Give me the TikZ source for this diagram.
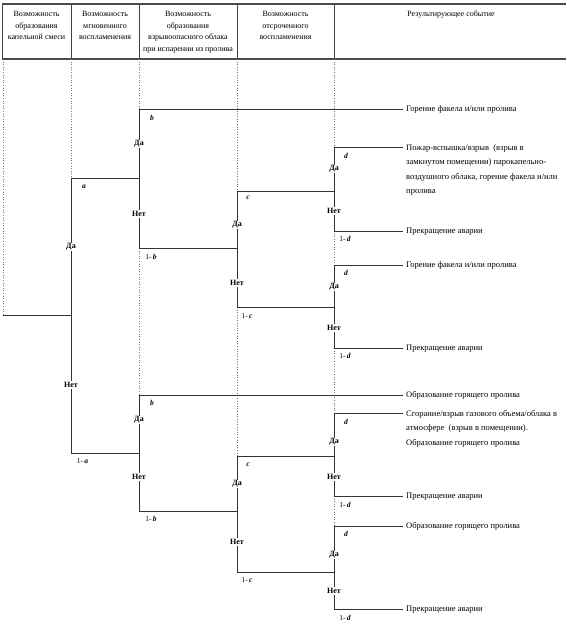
\documentclass[tikz,border=0pt]{standalone}
\usepackage{fontspec}
\setmainfont{Liberation Serif}
\tikzset{
  tree/.style={line width=0.8pt, draw=black!80},
  guide/.style={dotted, line width=0.6pt, draw=black!55},
  frame/.style={line width=1.2pt, draw=black!70},
  divider/.style={line width=0.7pt, draw=black!75},
  yn/.style={font=\bfseries\fontsize{8}{9}\selectfont, fill=white, inner sep=1pt},
  prob/.style={font=\fontsize{7.5}{9}\selectfont, inner sep=0pt},
  ev/.style={font=\fontsize{8.5}{14.5}\selectfont, align=left, inner sep=0pt},
  hdr/.style={font=\fontsize{8}{11.7}\selectfont, align=center, anchor=north, inner sep=0pt}
}
\newcommand{\pv}[1]{\textbf{\textit{#1}}}
\newcommand{\qv}[1]{1-\,\textbf{\textit{#1}}}
\begin{document}
\begin{tikzpicture}[x=1pt,y=-1pt]
\useasboundingbox (0,0) rectangle (566,626);
% ---------- header ----------
\coordinate (hTL) at (2,4);   \coordinate (hTR) at (566,4);
\coordinate (hBL) at (2,59);  \coordinate (hBR) at (566,59);
\draw[frame] (hTL) -- (hTR);
\draw[frame] (hBL) -- (hBR);
\foreach \xx in {2,71,139,237,334} {
  \draw[divider] (\xx,4) -- (\xx,59);
}
\node[hdr] (h1) at (36.5,11) {Возможность\\образования\\капельной смеси};
\node[hdr] (h2) at (105,11) {Возможность\\мгновенного\\воспламенения};
\node[hdr] (h3) at (188,11) {Возможность\\образования\\взрывоопасного облака\\при испарении из пролива};
\node[hdr] (h4) at (285.5,11) {Возможность\\отсроченного\\воспламенения};
\node[hdr] (h5) at (451,11) {Результирующее событие};
% ---------- junction coordinates ----------
\coordinate (G0) at (3,59);   \coordinate (GA) at (71,59);
\coordinate (GB) at (139,59); \coordinate (GC) at (237,59);
\coordinate (GD) at (334,59);
\coordinate (R0) at (3,315);
\coordinate (A) at (71,315);  \coordinate (Ay) at (71,178);  \coordinate (An) at (71,453);
\coordinate (B1) at (139,178); \coordinate (B1y) at (139,109); \coordinate (B1n) at (139,248);
\coordinate (B2) at (139,453); \coordinate (B2y) at (139,395); \coordinate (B2n) at (139,511);
\coordinate (C1) at (237,248); \coordinate (C1y) at (237,191); \coordinate (C1n) at (237,307);
\coordinate (C2) at (237,511); \coordinate (C2y) at (237,456); \coordinate (C2n) at (237,572);
\coordinate (D1) at (334,191); \coordinate (D1y) at (334,147); \coordinate (D1n) at (334,231);
\coordinate (D2) at (334,307); \coordinate (D2y) at (334,265); \coordinate (D2n) at (334,348);
\coordinate (D3) at (334,456); \coordinate (D3y) at (334,413); \coordinate (D3n) at (334,496);
\coordinate (D4) at (334,572); \coordinate (D4y) at (334,526); \coordinate (D4n) at (334,609);
% event line ends
\coordinate (T1) at (403,109);
\coordinate (T2) at (403,147);
\coordinate (T3) at (403,231);
\coordinate (T4) at (403,265);
\coordinate (T5) at (403,348);
\coordinate (T6) at (403,395);
\coordinate (T7) at (403,413);
\coordinate (T8) at (403,496);
\coordinate (T9) at (403,526);
\coordinate (T10) at (403,609);
% ---------- dotted guides ----------
\draw[guide] (G0) -- (R0);
\draw[guide] (GA) -- (Ay);
\draw[guide] (GB) -- (B1y);
\draw[guide] (B1n) -- (B2y);
\draw[guide] (GC) -- (C1y);
\draw[guide] (C1n) -- (C2y);
\draw[guide] (GD) -- (D1y);
\draw[guide] (D1n) -- (D2y);
\draw[guide] (D2n) -- (D3y);
\draw[guide] (D3n) -- (D4y);
% ---------- tree ----------
\draw[tree] (R0) -- (A);
\draw[tree] (Ay) -- (An);
\draw[tree] (Ay) -- (B1);
\draw[tree] (An) -- (B2);
\draw[tree] (B1y) -- (B1n);
\draw[tree] (B2y) -- (B2n);
\draw[tree] (B1n) -- (C1);
\draw[tree] (B2n) -- (C2);
\draw[tree] (C1y) -- (C1n);
\draw[tree] (C2y) -- (C2n);
\draw[tree] (C1y) -- (D1);
\draw[tree] (C1n) -- (D2);
\draw[tree] (C2y) -- (D3);
\draw[tree] (C2n) -- (D4);
\draw[tree] (D1y) -- (D1n);
\draw[tree] (D2y) -- (D2n);
\draw[tree] (D3y) -- (D3n);
\draw[tree] (D4y) -- (D4n);
\draw[tree] (B1y) -- (T1);
\draw[tree] (D1y) -- (T2);
\draw[tree] (D1n) -- (T3);
\draw[tree] (D2y) -- (T4);
\draw[tree] (D2n) -- (T5);
\draw[tree] (B2y) -- (T6);
\draw[tree] (D3y) -- (T7);
\draw[tree] (D3n) -- (T8);
\draw[tree] (D4y) -- (T9);
\draw[tree] (D4n) -- (T10);
% ---------- yes / no labels ----------
\node[yn] (lAy) at (71,247) {Да};
\node[yn] (lAn) at (71,385) {Нет};
\node[yn] (lB1y) at (139,144) {Да};
\node[yn] (lB1n) at (139,214) {Нет};
\node[yn] (lB2y) at (139,420) {Да};
\node[yn] (lB2n) at (139,477) {Нет};
\node[yn] (lC1y) at (237,225) {Да};
\node[yn] (lC1n) at (237,283) {Нет};
\node[yn] (lC2y) at (237,484) {Да};
\node[yn] (lC2n) at (237,542) {Нет};
\node[yn] (lD1y) at (334,169) {Да};
\node[yn] (lD1n) at (334,211) {Нет};
\node[yn] (lD2y) at (334,287) {Да};
\node[yn] (lD2n) at (334,328) {Нет};
\node[yn] (lD3y) at (334,442) {Да};
\node[yn] (lD3n) at (334,477) {Нет};
\node[yn] (lD4y) at (334,555) {Да};
\node[yn] (lD4n) at (334,591) {Нет};
% ---------- probability labels ----------
\node[prob] (pa) at (84,187) {\pv{a}};
\node[prob] (pna) at (82.5,461) {\qv{a}};
\node[prob] (pb1) at (152,118) {\pv{b}};
\node[prob] (pnb1) at (151,257) {\qv{b}};
\node[prob] (pb2) at (152,403) {\pv{b}};
\node[prob] (pnb2) at (151,519) {\qv{b}};
\node[prob] (pc1) at (248,198) {\pv{c}};
\node[prob] (pnc1) at (247,316) {\qv{c}};
\node[prob] (pc2) at (248,465) {\pv{c}};
\node[prob] (pnc2) at (247,580) {\qv{c}};
\node[prob] (pd1) at (346,156) {\pv{d}};
\node[prob] (pnd1) at (345,239) {\qv{d}};
\node[prob] (pd2) at (346,273) {\pv{d}};
\node[prob] (pnd2) at (345,356) {\qv{d}};
\node[prob] (pd3) at (346,422) {\pv{d}};
\node[prob] (pnd3) at (345,505) {\qv{d}};
\node[prob] (pd4) at (346,534) {\pv{d}};
\node[prob] (pnd4) at (345,618) {\qv{d}};
% ---------- events ----------
\node[ev, anchor=west] (e1) at (406,109.5) {Горение факела и/или пролива};
\node[ev, anchor=north west] (e2) at (406,144) {Пожар-вспышка/взрыв\ \ (взрыв в\\замкнутом помещении) парокапельно-\\воздушного облака, горение факела и/или\\пролива};
\node[ev, anchor=west] (e3) at (406,231.5) {Прекращение аварии};
\node[ev, anchor=west] (e4) at (406,265.5) {Горение факела и/или пролива};
\node[ev, anchor=west] (e5) at (406,348.5) {Прекращение аварии};
\node[ev, anchor=west] (e6) at (406,395.5) {Образование горящего пролива};
\node[ev, anchor=north west] (e7) at (406,410) {Сгорание/взрыв газового объема/облака в\\атмосфере\ \ (взрыв в помещении).\\Образование горящего пролива};
\node[ev, anchor=west] (e8) at (406,496.5) {Прекращение аварии};
\node[ev, anchor=west] (e9) at (406,526.5) {Образование горящего пролива};
\node[ev, anchor=west] (e10) at (406,609.5) {Прекращение аварии};
\end{tikzpicture}
\end{document}
